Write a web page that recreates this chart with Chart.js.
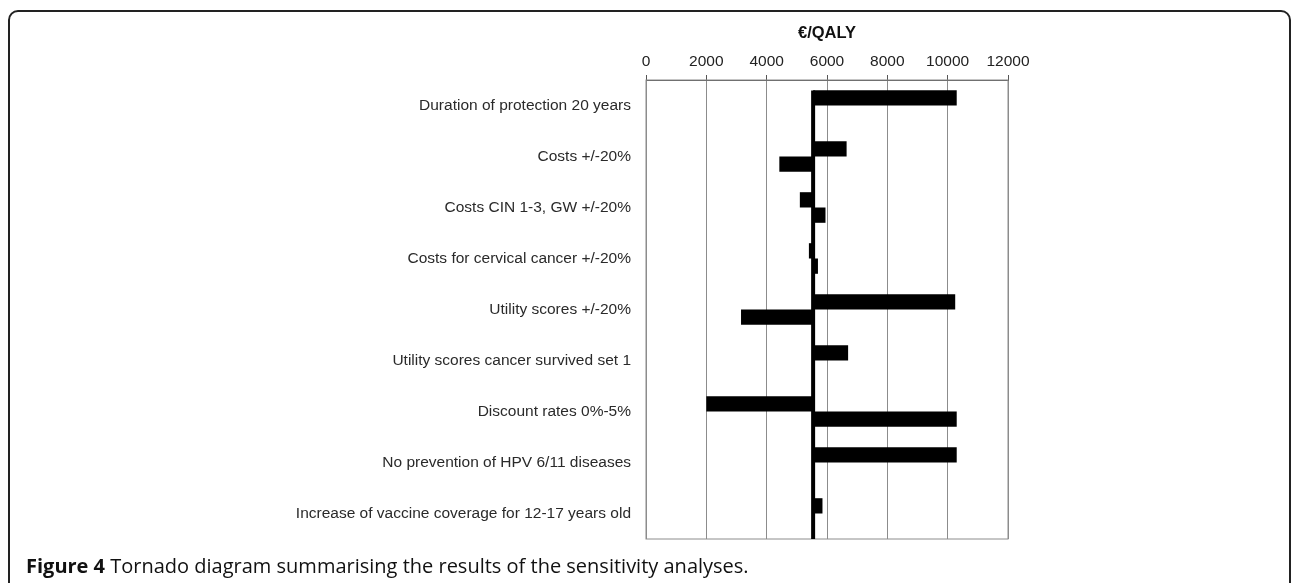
<!DOCTYPE html>
<html>
<head>
<meta charset="utf-8">
<script src="https://cdn.jsdelivr.net/npm/chart.js@4.4.1/dist/chart.umd.min.js"></script>
<style>
  html, body { margin: 0; padding: 0; background: #fff; overflow: hidden; }
  body { width: 1292px; height: 583px; position: relative; }
  #frame {
    position: absolute; left: 8px; top: 10px; width: 1283px; height: 620px;
    border: 2px solid #222; border-radius: 10px; box-sizing: border-box;
  }
  #wrap { position: absolute; left: 0; top: 0; width: 1292px; height: 583px; }
  #caption {
    position: absolute; left: 26px; top: 552px; white-space: nowrap;
    font-family: "Open Sans", sans-serif; font-size: 20px; line-height: 27px; color: #111;
  }
  #caption b { font-weight: 700; }
</style>
</head>
<body>
<div id="frame"></div>
<div id="wrap"><canvas id="tornado"></canvas></div>
<div id="caption"><b>Figure 4</b> Tornado diagram summarising the results of the sensitivity analyses.</div>
<script>
// parametry z wykresu
const categories = [
    'Duration of protection 20 years',
    'Costs +/-20%',
    'Costs CIN 1-3, GW +/-20%',
    'Costs for cervical cancer +/-20%',
    'Utility scores +/-20%',
    'Utility scores cancer survived set 1',
    'Discount rates 0%-5%',
    'No prevention of HPV 6/11 diseases',
    'Increase of vaccine coverage for 12-17 years old'
]
const baseCase = 5540 // €/QALY, przypadek bazowy
const upperValues = [10300, 6650, 5100, 5400, 10250, 6700, 2000, 10300, 5850]
const lowerValues = [null, 4420, 5950, 5700, 3150, null, 10300, null, null]
const xTicks = [0, 2000, 4000, 6000, 8000, 10000, 12000]

// zamiana na pływające słupki [baza, wartość]
function toFloating(values) {
    let out = []
    for (let i = 0; i < values.length; i++) {
        out.push(values[i] === null ? null : [baseCase, values[i]])
    }
    return out
}

const family = '"Liberation Sans", Arial, sans-serif'

// linia bazowa i ramka obszaru wykresu
const basePlugin = {
    id: 'baseLine',
    afterDatasetsDraw(chart) {
        const { ctx, chartArea, scales } = chart
        const x = scales.x.getPixelForValue(baseCase)
        ctx.save()
        ctx.strokeStyle = '#8c8c8c'
        ctx.lineWidth = 1
        ctx.strokeRect(chartArea.left, chartArea.top, chartArea.right - chartArea.left, chartArea.bottom - chartArea.top)
        ctx.strokeStyle = '#000'
        ctx.lineWidth = 4
        ctx.beginPath()
        ctx.moveTo(x, scales.y.getPixelForValue(0) - 15)
        ctx.lineTo(x, chartArea.bottom)
        ctx.stroke()
        ctx.restore()
    }
}

const data = {
    labels: categories,
    datasets: [
        { label: 'upper', data: toFloating(upperValues), backgroundColor: '#000', borderWidth: 0 },
        { label: 'lower', data: toFloating(lowerValues), backgroundColor: '#000', borderWidth: 0 }
    ]
}

const config = {
    type: 'bar',
    data: data,
    options: {
        indexAxis: 'y',
        responsive: true,
        maintainAspectRatio: false,
        animation: false,
        categoryPercentage: 0.6,
        barPercentage: 1.0,
        layout: { padding: { left: 0, right: 284, top: 0, bottom: 44 } },
        plugins: { legend: { display: false }, tooltip: { enabled: false } },
        scales: {
            x: {
                position: 'top',
                min: 0,
                max: 12000,
                afterBuildTicks: (scale) => { scale.ticks = xTicks.map(v => ({ value: v })) },
                afterFit: (scale) => { scale.height = 80 },
                ticks: {
                    font: { family: family, size: 15.5 }, color: '#222', padding: 4, maxRotation: 0,
                    callback: (value) => String(value)
                },
                grid: { color: '#8c8c8c', lineWidth: 1, tickLength: 5, tickColor: '#555' },
                border: { color: '#555' },
                title: {
                    display: true, text: '€/QALY', color: '#111',
                    font: { family: family, size: 16.5, weight: 'bold' },
                    padding: { top: 24, bottom: 6 }
                }
            },
            y: {
                afterFit: (scale) => { scale.width = 646 },
                ticks: { font: { family: family, size: 15.5 }, color: '#2a2a2a', padding: 15 },
                grid: { display: false, drawTicks: false },
                border: { display: false }
            }
        }
    },
    plugins: [basePlugin]
}

new Chart(document.getElementById('tornado'), config)
</script>
</body>
</html>
